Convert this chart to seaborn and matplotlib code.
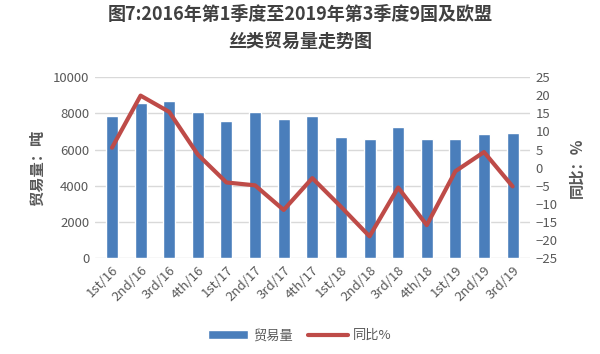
import matplotlib
matplotlib.use("Agg")
import matplotlib.pyplot as plt
import seaborn as sns
import pandas as pd
from matplotlib.patches import Patch
from matplotlib.lines import Line2D

quarters = ["1st/16", "2nd/16", "3rd/16", "4th/16", "1st/17", "2nd/17", "3rd/17",
            "4th/17", "1st/18", "2nd/18", "3rd/18", "4th/18", "1st/19", "2nd/19", "3rd/19"]
volume = [7860, 8570, 8700, 8100, 7580, 8100, 7680, 7860, 6710, 6560, 7270, 6600, 6600, 6840, 6900]
yoy = [5.5, 19.9, 15.4, 3.6, -4.1, -4.9, -11.7, -2.9, -10.8, -19.0, -5.5, -15.9, -1.0, 4.3, -5.2]

sns.set_theme(style="white")
plt.rcParams['font.family'] = ['Noto Sans CJK SC', 'DejaVu Sans']

bar_color = "#4A7EBB"
line_color = "#BE4B48"
tick_color = "#595959"

df = pd.DataFrame({"quarter": quarters, "volume": volume, "yoy": yoy})

fig = plt.figure(figsize=(6, 3.54), dpi=100)
ax = fig.add_axes([0.158, 0.271, 0.725, 0.511])

sns.barplot(data=df, x="quarter", y="volume", color=bar_color, width=0.42,
            saturation=1, ax=ax, zorder=2)
ax.set_ylim(0, 10000)
ax.set_yticks(range(0, 10001, 2000))
ax.yaxis.grid(True, color="#D9D9D9", linewidth=1, zorder=0)
ax.set_axisbelow(True)
for s in ax.spines.values():
    s.set_visible(False)
ax.set_xlabel("")
ax.set_ylabel("贸易量：吨", fontsize=11, fontweight="bold", color=tick_color, labelpad=6)
ax.tick_params(axis="both", colors=tick_color, labelsize=9.5, length=0, pad=4)
ax.set_xticks(range(len(quarters)))
ax.set_xticklabels(quarters, rotation=45, ha="right", rotation_mode="anchor")
ax.set_xlim(-0.6, len(quarters) - 0.4)

ax2 = ax.twinx()
sns.lineplot(x=list(range(len(quarters))), y=yoy, color=line_color, linewidth=3,
             ax=ax2, sort=False)
ax2.set_ylim(-25, 25)
ax2.set_yticks(range(-25, 26, 5))
for s in ax2.spines.values():
    s.set_visible(False)
ax2.grid(False)
ax2.tick_params(axis="y", colors=tick_color, labelsize=9.5, length=0, pad=4)
ax2.set_ylabel("同比：%", fontsize=11, fontweight="bold", color=tick_color,
               rotation=90, labelpad=8)
ax2.set_xlim(-0.6, len(quarters) - 0.4)

fig.suptitle("图7:2016年第1季度至2019年第3季度9国及欧盟\n丝类贸易量走势图",
             fontsize=13, fontweight="bold", color="#404040", y=0.985, linespacing=1.5)

handles = [Patch(facecolor=bar_color, label="贸易量"),
           Line2D([0], [0], color=line_color, linewidth=3, label="同比%")]
fig.legend(handles=handles, loc="lower center", bbox_to_anchor=(0.5, 0.0), ncol=2,
           frameon=False, fontsize=9.5, labelcolor=tick_color, handlelength=3,
           columnspacing=1.2, handletextpad=0.4)

fig.savefig("out.png", dpi=100)
